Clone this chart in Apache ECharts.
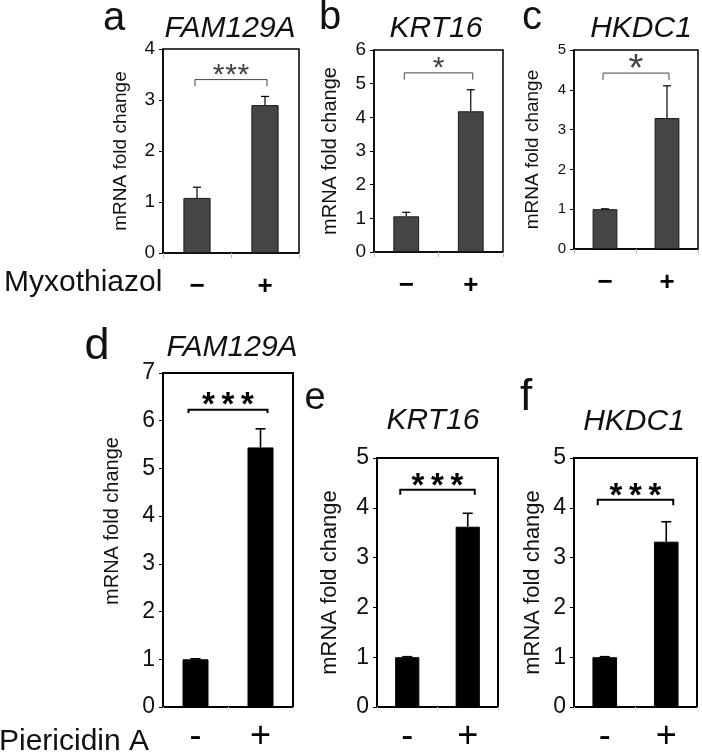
<!DOCTYPE html>
<html><head><meta charset="utf-8">
<script src="https://cdn.jsdelivr.net/npm/echarts@6/dist/echarts.min.js"></script>
<style>html,body{margin:0;padding:0;background:#fff}#c{width:702px;height:755px}</style>
</head><body><div id="c"></div>
<script>
// ---- data ----
const topCategories = ['−', '+'];
const bottomCategories = ['-', '+'];
const geneTitles = ['FAM129A', 'KRT16', 'HKDC1', 'FAM129A', 'KRT16', 'HKDC1'];
const panelLetters = ['a', 'b', 'c', 'd', 'e', 'f'];
const treatments = ['Myxothiazol', 'Piericidin A'];
const yAxisName = 'mRNA fold change';
const yMax = [4, 6, 5, 7, 5, 5];
const meansA = [1.08, 2.90]; const errA = [0.21, 0.17];
const meansB = [1.06, 4.18]; const errB = [0.12, 0.64];
const meansC = [1.00, 3.29]; const errC = [0.01, 0.81];
const meansD = [1.00, 5.44]; const errD = [0.01, 0.39];
const meansE = [1.00, 3.62]; const errE = [0.01, 0.27];
const meansF = [1.00, 3.32]; const errF = [0.01, 0.40];
const bracketTop = [3.40, 5.32, 4.42, 6.23, 4.36, 4.16];
const bracketLeg = [3.27, 5.12, 4.25, 6.16, 4.26, 4.05];
const sigLabels = ['***', '*', '*', '***', '***', '***'];

const means = [meansA, meansB, meansC, meansD, meansE, meansF];
const errs = [errA, errB, errC, errD, errE, errF];

// ---- layout (positions / styles) ----
const layout = [
  {left:163, top:49, width:136, height:204, nameGap:33, nameSize:19, tickSize:19, row:0, title:[230,29], letter:[114,18.5,40], starSize:30, pad:0},
  {left:374, top:50, width:129, height:202, nameGap:34, nameSize:20, tickSize:19, row:0, title:[436,29], letter:[330,18,40], starSize:30, pad:0},
  {left:574, top:50, width:124, height:199, nameGap:32, nameSize:19, tickSize:15, row:0, title:[641,29], letter:[532,18,40], starSize:38, pad:0},
  {left:163, top:373, width:130, height:339, nameGap:41, nameSize:20, tickSize:23, row:1, title:[232,348], letter:[97,347,45], starSize:33, pad:38},
  {left:377, top:458, width:121, height:254, nameGap:36, nameSize:22, tickSize:23, row:1, title:[433,421], letter:[315,399,38], starSize:33, pad:0},
  {left:574, top:458, width:123, height:254, nameGap:30, nameSize:22, tickSize:23, row:1, title:[634,422], letter:[526,398,44], starSize:33, pad:0}
];
const FONT = '"Liberation Sans", Arial, sans-serif';

function errorRender(row) {
  return function (params, api) {
    const x = api.value(0), m = api.value(1), e = api.value(2);
    const p0 = api.coord([x, m]);
    const p1 = api.coord([x, m + e]);
    const cap = row ? 5 : 4;
    const style = {stroke: '#000', lineWidth: row ? 1.6 : 1.2};
    return {type: 'group', children: [
      {type: 'line', shape: {x1: p0[0], y1: p0[1], x2: p1[0], y2: p1[1]}, style: style},
      {type: 'line', shape: {x1: p1[0] - cap, y1: p1[1], x2: p1[0] + cap, y2: p1[1]}, style: style}
    ]};
  };
}

function bracketRender(i) {
  const L = layout[i];
  return function (params, api) {
    const x0 = api.value(0), x1 = api.value(1), top = api.value(2), leg = api.value(3);
    const off = L.row ? 7 : 2;
    const a = api.coord([x0, leg]), b = api.coord([x0, top]);
    const c = api.coord([x1, top]), d = api.coord([x1, leg]);
    const color = L.row ? '#000' : '#444';
    const children = [{
      type: 'polyline',
      shape: {points: [[a[0] - off, a[1]], [b[0] - off, b[1]], [c[0] + off, c[1]], [d[0] + off, d[1]]]},
      style: {stroke: color, lineWidth: L.row ? 2 : 1, fill: null}
    }];
    const chars = sigLabels[i].split('');
    const spacing = L.row ? 19.5 : 12.3;
    const cx = (b[0] + c[0]) / 2;
    const starCenterY = b[1] - 11;
    chars.forEach(function (ch, k) {
      children.push({
        type: 'text',
        style: {
          text: ch, x: cx + (k - (chars.length - 1) / 2) * spacing,
          y: starCenterY + 0.23 * L.starSize,
          align: 'center', verticalAlign: 'middle',
          fill: color, font: (L.row ? 'bold ' : '') + L.starSize + 'px ' + FONT
        }
      });
    });
    return {type: 'group', children: children};
  };
}

const grids = [], xAxes = [], yAxes = [], series = [], graphics = [];
layout.forEach(function (L, i) {
  const top = L.row === 0;
  grids.push({left: L.left, top: L.top, width: L.width, height: L.height, show: true,
    borderColor: '#000', borderWidth: top ? 1.5 : 2, containLabel: false});
  xAxes.push({
    type: 'category', gridIndex: i, data: top ? topCategories : bottomCategories,
    boundaryGap: true,
    axisLine: {lineStyle: {color: '#000', width: top ? 1.5 : 2}},
    axisTick: {show: true, alignWithLabel: false, length: top ? 5 : 4, lineStyle: {color: top ? '#bbb' : '#ddd'}},
    axisLabel: {color: '#000', fontFamily: FONT, fontSize: top ? 26 : 36, fontWeight: top ? 'bold' : 'normal', margin: top ? 21 : 12}
  });
  yAxes.push({
    type: 'value', gridIndex: i, min: 0, max: yMax[i], interval: 1,
    name: yAxisName, nameLocation: 'middle', nameGap: L.nameGap,
    nameTextStyle: {color: '#111', fontFamily: FONT, fontSize: L.nameSize, padding: [0, 0, 0, L.pad]},
    axisLine: {show: true, lineStyle: {color: '#000', width: top ? 1.5 : 2}},
    axisTick: {show: true, inside: false, length: 4, lineStyle: {color: '#000'}},
    axisLabel: {color: '#111', fontFamily: FONT, fontSize: L.tickSize, margin: 8},
    splitLine: {show: false}
  });
  series.push({
    type: 'bar', xAxisIndex: i, yAxisIndex: i, data: means[i], barWidth: '40%',
    itemStyle: {color: top ? '#454545' : '#000', borderColor: top ? '#1a1a1a' : '#000', borderWidth: 1},
    silent: true, animation: false
  });
  series.push({
    type: 'custom', xAxisIndex: i, yAxisIndex: i, clip: false, animation: false, silent: true,
    renderItem: errorRender(L.row),
    data: means[i].map(function (m, k) { return [k, m, errs[i][k]]; }), z: 5
  });
  series.push({
    type: 'custom', xAxisIndex: i, yAxisIndex: i, clip: false, animation: false, silent: true,
    renderItem: bracketRender(i),
    data: [[0, 1, bracketTop[i], bracketLeg[i]]], z: 5
  });
  graphics.push({type: 'text', x: L.title[0], y: L.title[1], style: {
    text: geneTitles[i], align: 'center', verticalAlign: 'middle', fill: '#111',
    font: 'italic 30px ' + FONT}});
  graphics.push({type: 'text', x: L.letter[0], y: L.letter[1], style: {
    text: panelLetters[i], align: 'center', verticalAlign: 'middle', fill: '#111',
    font: L.letter[2] + 'px ' + FONT}});
});
graphics.push({type: 'text', x: 4, y: 282.6, style: {text: treatments[0], align: 'left', verticalAlign: 'middle', fill: '#111', font: '30px ' + FONT}});
graphics.push({type: 'text', x: -1, y: 742, style: {text: treatments[1], align: 'left', verticalAlign: 'middle', fill: '#111', font: '30px ' + FONT}});

const chart = echarts.init(document.getElementById('c'), null, {renderer: 'canvas'});
chart.setOption({
  animation: false,
  backgroundColor: '#fff',
  grid: grids, xAxis: xAxes, yAxis: yAxes, series: series, graphic: graphics
});
</script></body></html>
